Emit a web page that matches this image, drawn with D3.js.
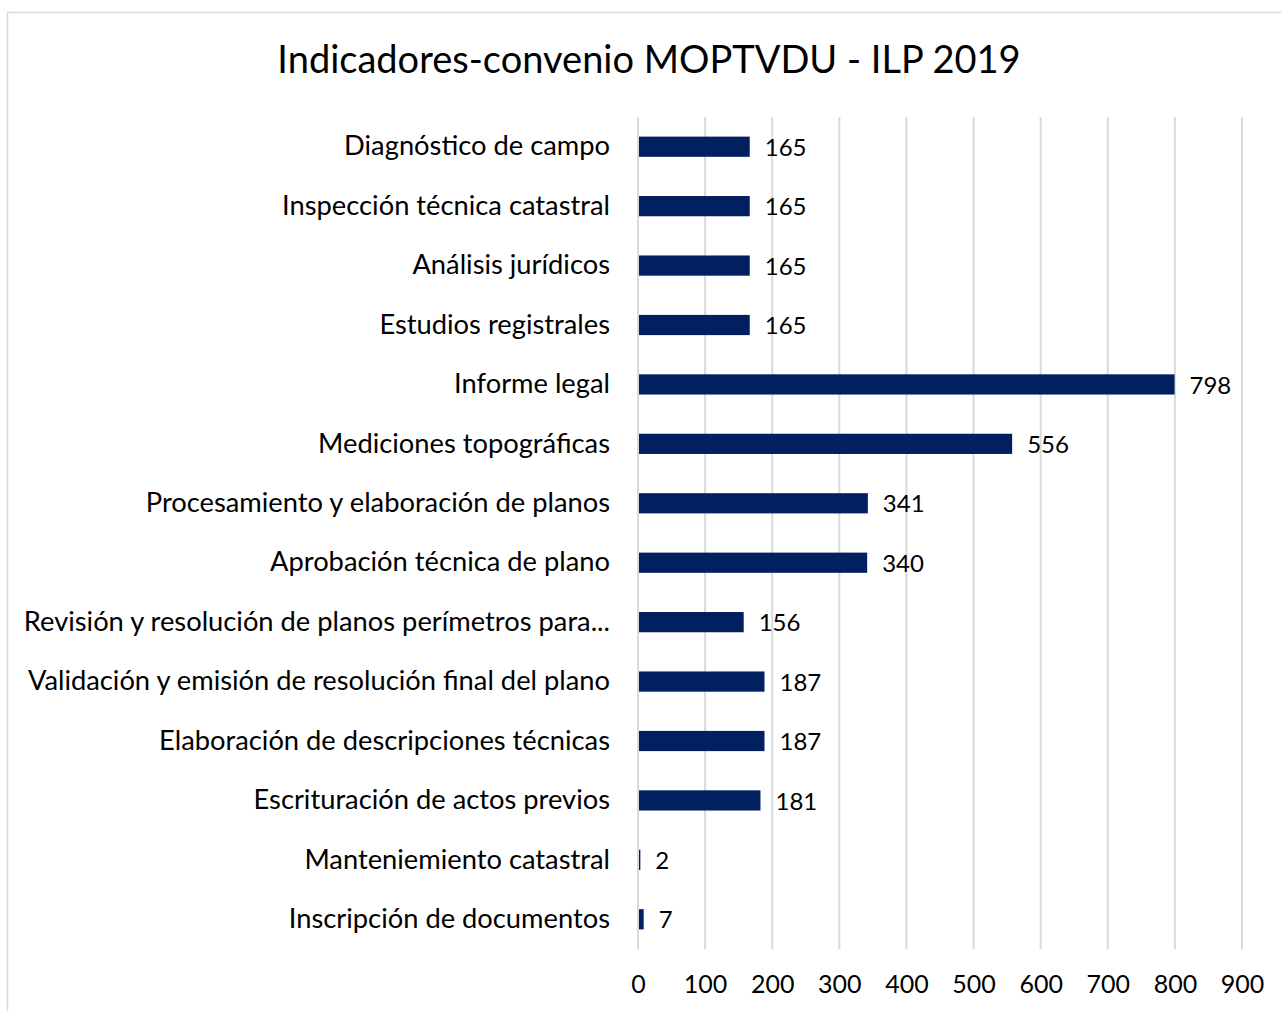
<!DOCTYPE html>
<html>
<head>
<meta charset="utf-8">
<script src="https://cdn.jsdelivr.net/npm/d3@7"></script>
<style>
  body { margin: 0; background: #fff; }
  svg text { font-family: Lato, "Open Sans", sans-serif; fill: #000; }
</style>
</head>
<body>
<svg class="main-svg" width="1281" height="1011"></svg>
<script>
var titleText = 'Indicadores-convenio MOPTVDU - ILP 2019';

var categories = [
  'Diagnóstico de campo',
  'Inspección técnica catastral',
  'Análisis jurídicos',
  'Estudios registrales',
  'Informe legal',
  'Mediciones topográficas',
  'Procesamiento y elaboración de planos',
  'Aprobación técnica de plano',
  'Revisión y resolución de planos perímetros para...',
  'Validación y emisión de resolución final del plano',
  'Elaboración de descripciones técnicas',
  'Escrituración de actos previos',
  'Manteniemiento catastral',
  'Inscripción de documentos'
];
var values = [165, 165, 165, 165, 798, 556, 341, 340, 156, 187, 187, 181, 2, 7];
var xTicks = [0, 100, 200, 300, 400, 500, 600, 700, 800, 900];

var barColour = '#002060',
    gridColour = '#d9d9d9';

var d3 = window.d3;
var svg = d3.select('.main-svg');

// chart frame
svg.append('rect')
  .attr('x', 7.5).attr('y', 12.5)
  .attr('width', 1290).attr('height', 1010)
  .attr('fill', '#fff')
  .attr('stroke', '#d9d9d9')
  .attr('stroke-width', 1.5);

svg.append('text')
  .attr('x', 649).attr('y', 73)
  .attr('text-anchor', 'middle')
  .style('font-size', '38px')
  .text(titleText);

var x = d3.scaleLinear().domain([0, 900]).range([638, 1242]);
var y = d3.scaleBand().domain(categories).range([117, 949]).paddingInner(0.66).paddingOuter(0.33);

// gridlines
svg.append('g')
  .selectAll('line')
  .data(xTicks)
  .enter()
  .append('line')
  .attr('x1', d => x(d)).attr('x2', d => x(d))
  .attr('y1', 117).attr('y2', 949)
  .attr('stroke', gridColour)
  .attr('stroke-width', 2);

// x axis labels
var xAxis = d3.axisBottom(x).tickValues(xTicks).tickSize(0).tickPadding(0);
var gx = svg.append('g').attr('transform', 'translate(0,975)').call(xAxis);
gx.select('.domain').remove();
gx.selectAll('text').style('font-size', '25px').attr('dy', '0.71em').style('fill', '#000');

// y axis labels
var yAxis = d3.axisLeft(y).tickSize(0).tickPadding(0);
var gy = svg.append('g').attr('transform', 'translate(610,0)').call(yAxis);
gy.select('.domain').remove();
gy.selectAll('text').style('font-size', '27.3px').style('fill', '#000');

// bars
svg.append('g')
  .selectAll('rect')
  .data(values)
  .enter()
  .append('rect')
  .attr('x', x(0) + 1)
  .attr('y', (d, i) => y(categories[i]))
  .attr('width', d => Math.max(x(d) - x(0), 1))
  .attr('height', y.bandwidth())
  .attr('fill', barColour);

// value labels
svg.append('g')
  .selectAll('text')
  .data(values)
  .enter()
  .append('text')
  .attr('x', d => x(d) + 16)
  .attr('y', (d, i) => y(categories[i]) + y.bandwidth() / 2)
  .attr('dy', '0.38em')
  .style('font-size', '24px')
  .text(d => d);
</script>
</body>
</html>
